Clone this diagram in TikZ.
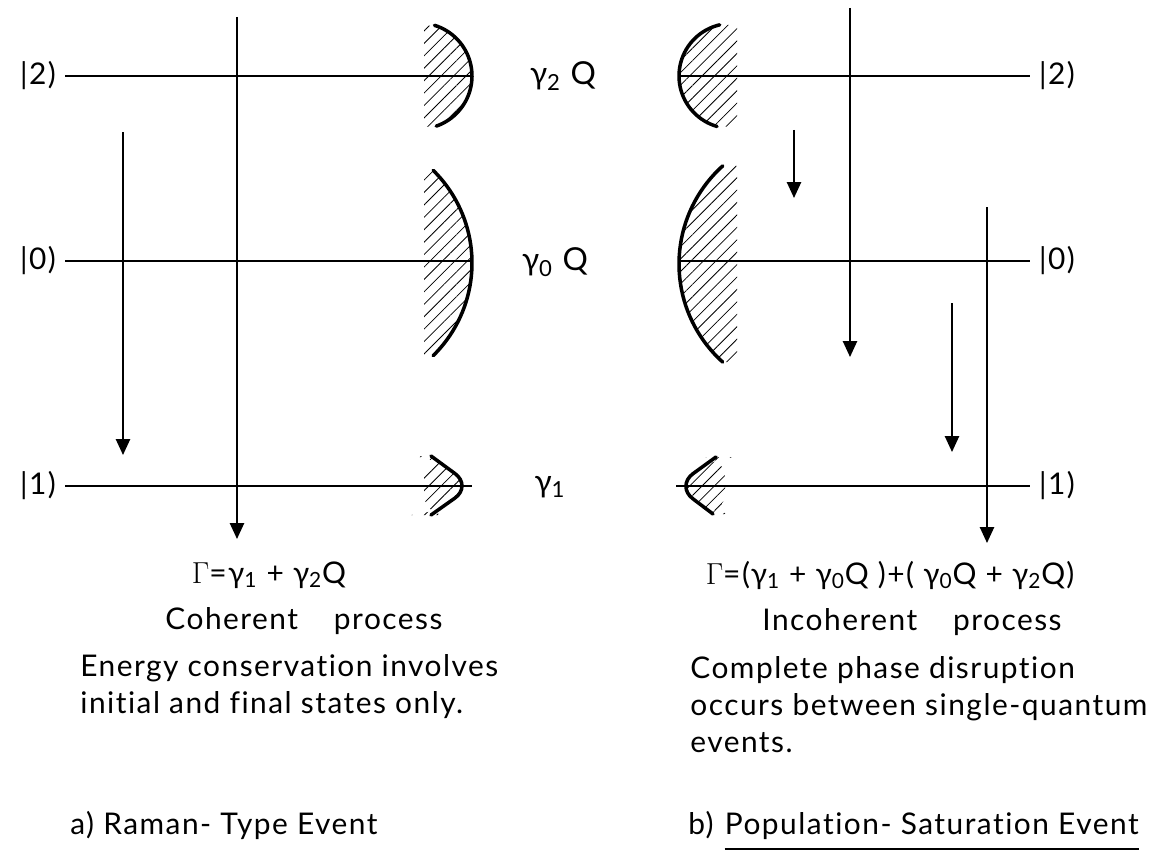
\documentclass[tikz,border=0pt]{standalone}
\usepackage{fontspec}
\setmainfont{Lato}[LetterSpace=5,Ligatures=NoCommon]
\usetikzlibrary{arrows.meta,patterns.meta,positioning}
\tikzset{
  lvl/.style={line width=1pt},
  wall/.style={line width=2pt,line cap=round},
  hatch/.style={pattern={Lines[angle=45,distance=5pt,line width=0.45pt]}},
  trans/.style={line width=1.1pt,-{Triangle[width=8pt,length=9pt]}},
  txt/.style={font=\fontsize{17}{21}\selectfont,inner sep=0pt},
  ket/.style={font=\fontsize{17}{20}\selectfont,inner xsep=5pt,inner ysep=0pt},
  rate/.style={font=\fontsize{18}{22}\selectfont,inner sep=0pt},
}
\newcommand{\gm}[1]{γ\textsubscript{#1}}
\begin{document}
\begin{tikzpicture}[x=0.02cm,y=-0.02cm]
\useasboundingbox (0,0) rectangle (1166,865);
\foreach \n/\y/\xr in {2/76/679,0/261/679,1/486/676}{
  \coordinate (vl\n) at (472,\y); \coordinate (vr\n) at (\xr,\y);
  \node[ket,anchor=east] (kl\n) at (65,\y) {|\n)};
  \node[ket,anchor=west] (kr\n) at (1030,\y) {|\n)};
  \draw[lvl] (kl\n.east |- vl\n) -- (vl\n);
  \draw[lvl] (vr\n) -- (kr\n.west |- vr\n);
}
\fill[hatch] plot[domain=-73:71,samples=40] ({419+53*cos(\x)},{76+53*sin(\x)}) -- (424,127) -- (424,26) -- cycle;
\draw[wall] plot[domain=-73:71,samples=40] ({419+53*cos(\x)},{76+53*sin(\x)});
\fill[hatch] plot[domain=-45.5:45.5,samples=40] ({342+130*cos(\x)},{263+130*sin(\x)}) -- (424,356) -- (424,170) -- cycle;
\draw[wall] plot[domain=-45.5:45.5,samples=40] ({342+130*cos(\x)},{263+130*sin(\x)});
\fill[hatch,rounded corners=12pt] (431,456) -- (vl1) -- (431,515) -- (424,515) -- (424,456) -- cycle;
\draw[wall,rounded corners=12pt] (431,456) -- (vl1) -- (431,515);
\fill[hatch] plot[domain=106:257,samples=40] ({731.5+52.5*cos(\x)},{76+52.5*sin(\x)}) -- (737,25) -- (737,127) -- cycle;
\draw[wall] plot[domain=106:257,samples=40] ({731.5+52.5*cos(\x)},{76+52.5*sin(\x)});
\fill[hatch] plot[domain=132:228,samples=40] ({811+132*cos(\x)},{264+132*sin(\x)}) -- (737,166) -- (737,362) -- cycle;
\draw[wall] plot[domain=132:228,samples=40] ({811+132*cos(\x)},{264+132*sin(\x)});
\fill[hatch,rounded corners=12pt] (716,457) -- (vr1) -- (713,514) -- (725,514) -- (725,457) -- cycle;
\draw[wall,rounded corners=12pt] (716,457) -- (vr1) -- (713,514);
\foreach \n/\x/\ya/\yb in {a/123/132/455,b/237/17/539,c/794/130/198,d/850/8/357,e/952/303/452,f/987/207/543}{
  \coordinate (\n0) at (\x,\ya); \coordinate (\n1) at (\x,\yb);
  \draw[trans] (\n0) -- (\n1);
}
\node[rate] (r2) at (563,76) {\gm2 Q};
\node[rate] (r0) at (555,262) {\gm0 Q};
\node[rate] (r1) at (550,487) {\gm1};
\node[txt] (gl) at (269,575) {$\Gamma$=\gm1 + \gm2Q};
\node[txt] (cl) at (304,621) {Coherent\hspace{1.2em}process};
\node[txt,anchor=west,align=left] (el) at (80,687) {Energy conservation involves\\initial and final states only.};
\node[txt,anchor=west] (al) at (70,825) {a) Raman- Type Event};
\node[txt] (gr) at (890,575) {$\Gamma$=(\gm1 + \gm0Q )+( \gm0Q + \gm2Q)};
\node[txt] (cr) at (912,622) {Incoherent\hspace{1.2em}process};
\node[txt,anchor=west,align=left] (er) at (690,705) {Complete phase disruption\\occurs between single-quantum\\events.};
\node[txt,anchor=west] (bl) at (688,825) {b)};
\node[txt,anchor=base west,inner ysep=5pt] (bt) at ([xshift=6pt]bl.base east) {Population- Saturation Event};
\draw[lvl] (bt.south west) -- (bt.south east);
\end{tikzpicture}
\end{document}
